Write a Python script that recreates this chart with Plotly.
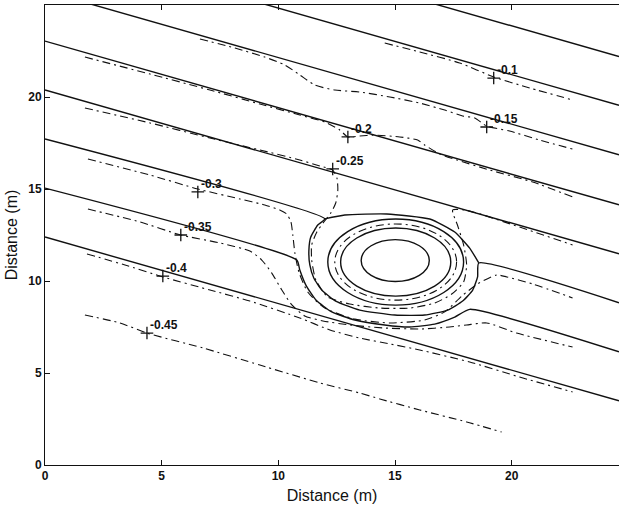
import plotly.graph_objects as go

# ---- analytical solution (solid contours), x/y in metres ----
sol_a05_x = [0.0, 24.6]
sol_a05_y = [31.10, 22.20]
sol_a10_x = [0.0, 24.6]
sol_a10_y = [28.45, 19.55]
sol_a15_x = [0.0, 24.6]
sol_a15_y = [25.76, 16.86]
sol_a20_x = [0.0, 24.6]
sol_a20_y = [23.04, 14.14]
sol_a25_x = [0.0, 24.6]
sol_a25_y = [20.38, 11.48]
sol_a40_x = [0.0, 24.6]
sol_a40_y = [12.39, 3.49]

# -0.3 contour: runs in from the left, bends under the mound, leaves to the right
sol_a30_x = [0.0, 11.99, 11.69, 11.39, 11.31, 11.35, 11.52, 11.86, 12.46, 13.49,
             14.99, 16.27, 17.26, 17.90, 18.33, 18.54, 18.59, 24.6]
sol_a30_y = [17.72, 13.38, 13.04, 12.39, 11.68, 10.87, 10.16, 9.51, 8.91, 8.42,
             8.15, 8.15, 8.42, 8.91, 9.51, 10.22, 10.98, 8.82]
# upper arc closing the outer loop round the mound
sol_a30_top_x = [11.99, 12.85, 14.65, 16.49, 17.56, 18.20, 18.59]
sol_a30_top_y = [13.38, 13.59, 13.64, 13.37, 12.66, 11.79, 10.98]

# -0.35 contour with its wider detour under the mound
sol_a35_x = [0.0, 10.79, 10.92, 11.18, 11.61, 12.29, 13.28, 14.56, 15.63, 16.70,
             17.56, 18.20, 24.6]
sol_a35_y = [15.05, 11.14, 10.60, 9.78, 8.97, 8.32, 7.88, 7.61, 7.50, 7.66,
             8.04, 8.46, 6.15]

# closed rings round the mound: centre x, centre y, half-width, half-height
ring_cx = [15.01, 15.03, 15.03, 15.03]
ring_cy = [11.11, 11.03, 11.03, 11.03]
ring_rx = [1.46, 2.36, 2.61, 2.91]
ring_ry = [1.14, 1.85, 2.07, 2.34]
ring_dashed = [False, False, True, False]

# ---- numerical solution (dash-dot contours) ----
num_10_x = [14.56, 16.06, 17.77, 19.23, 20.77, 22.61]
num_10_y = [22.93, 22.45, 21.85, 21.09, 20.49, 19.84]

num_15_x = [6.64, 8.14, 9.42, 10.28, 10.92, 11.56, 12.42, 13.49, 14.78, 16.06,
            17.13, 17.90, 18.42, 18.93, 19.91, 21.20, 22.61]
num_15_y = [23.15, 22.66, 22.17, 21.74, 21.20, 20.65, 20.38, 20.27, 20.00, 19.67,
            19.29, 18.97, 18.86, 18.42, 18.15, 17.66, 17.17]

num_20_x = [1.71, 4.50, 7.07, 9.21, 10.92, 11.99, 12.63, 12.98, 13.49, 14.05,
            15.20, 15.97, 16.27, 16.92, 17.65, 19.06, 20.90, 22.61]
num_20_y = [22.17, 21.25, 20.38, 19.62, 19.02, 18.64, 18.21, 17.83, 17.88, 17.93,
            17.83, 17.66, 17.39, 16.90, 16.58, 16.03, 15.38, 14.57]

num_25_x = [1.71, 4.50, 7.07, 9.21, 10.92, 11.78, 12.33, 12.51, 12.55, 12.46,
            12.25, 11.95, 11.65, 11.43, 11.43, 11.61, 12.12, 13.06, 14.35, 15.63,
            16.70, 17.43, 17.94, 18.07, 17.94, 17.69, 17.47, 17.99, 18.50, 20.34, 22.61]
num_25_y = [19.40, 18.59, 17.77, 17.12, 16.58, 16.25, 16.03, 15.60, 14.95, 14.24,
            13.70, 13.21, 12.66, 11.96, 11.14, 10.05, 9.13, 8.75, 8.53, 8.53,
            8.80, 9.29, 9.95, 10.87, 11.96, 12.99, 13.86, 13.86, 13.70, 12.93, 11.96]

num_30_x = [1.84, 4.50, 6.55, 8.35, 9.42, 10.06, 10.36, 10.54, 10.62, 10.71,
            10.88, 11.26, 11.99, 13.28, 14.78, 16.27, 17.13, 17.86, 18.54, 19.36,
            19.79, 20.90, 22.61]
num_30_y = [16.63, 15.76, 15.00, 14.46, 14.13, 13.86, 13.64, 13.21, 12.50, 11.52,
            10.49, 9.40, 8.53, 7.93, 7.72, 7.88, 8.32, 9.18, 9.84, 10.33,
            10.22, 9.84, 9.08]

num_35_x = [1.84, 4.07, 5.82, 7.49, 8.78, 9.29, 9.72, 10.15, 10.58, 11.13,
            11.91, 13.06, 14.48, 16.06, 17.34, 18.07, 18.93, 20.21, 22.61]
num_35_y = [13.91, 13.21, 12.50, 12.07, 11.63, 11.14, 10.43, 9.51, 8.70, 8.10,
            7.83, 7.61, 7.45, 7.39, 7.50, 7.61, 7.72, 7.17, 6.41]

num_40_x = [1.80, 3.43, 5.05, 7.07, 8.78, 10.92, 12.21, 13.49, 14.78, 16.06,
            18.20, 20.34, 22.61]
num_40_y = [11.47, 10.87, 10.22, 9.51, 8.91, 7.99, 7.34, 6.90, 6.58, 6.25,
            5.60, 4.78, 3.97]

num_45_x = [1.71, 3.21, 4.37, 6.77, 9.21, 11.78, 13.49, 14.35, 16.06, 18.07, 19.57]
num_45_y = [8.15, 7.72, 7.17, 6.36, 5.43, 4.46, 3.91, 3.59, 2.99, 2.34, 1.79]

# contour labels: level and the point where each one is pinned
label_levels = [-0.1, -0.15, -0.2, -0.25, -0.3, -0.35, -0.4, -0.45]
label_x = [19.23, 18.93, 12.98, 12.33, 6.55, 5.82, 5.05, 4.37]
label_y = [21.03, 18.37, 17.83, 16.09, 14.84, 12.50, 10.27, 7.17]

x_ticks = [0, 5, 10, 15, 20]
y_ticks = [0, 5, 10, 15, 20]

INK = "#111111"
DASHDOT = "8px,4px,2px,4px"
FONT = "Liberation Sans, Arial, sans-serif"

fig = go.Figure()

solid_paths = [
    (sol_a05_x, sol_a05_y, "linear"), (sol_a10_x, sol_a10_y, "linear"),
    (sol_a15_x, sol_a15_y, "linear"), (sol_a20_x, sol_a20_y, "linear"),
    (sol_a25_x, sol_a25_y, "linear"), (sol_a40_x, sol_a40_y, "linear"),
    (sol_a30_x, sol_a30_y, "spline"), (sol_a30_top_x, sol_a30_top_y, "spline"),
    (sol_a35_x, sol_a35_y, "spline"),
]
for xs, ys, shape in solid_paths:
    fig.add_trace(go.Scatter(
        x=xs, y=ys, mode="lines", showlegend=False, hoverinfo="skip",
        line=dict(color=INK, width=1.4, shape=shape, smoothing=0.5),
    ))

numeric_paths = [
    (num_10_x, num_10_y), (num_15_x, num_15_y), (num_20_x, num_20_y),
    (num_25_x, num_25_y), (num_30_x, num_30_y), (num_35_x, num_35_y),
    (num_40_x, num_40_y), (num_45_x, num_45_y),
]
for xs, ys in numeric_paths:
    fig.add_trace(go.Scatter(
        x=xs, y=ys, mode="lines", showlegend=False, hoverinfo="skip",
        line=dict(color=INK, width=1.1, dash=DASHDOT, shape="spline", smoothing=0.6),
    ))

for cx, cy, rx, ry, dashed in zip(ring_cx, ring_cy, ring_rx, ring_ry, ring_dashed):
    fig.add_shape(
        type="circle", xref="x", yref="y",
        x0=cx - rx, x1=cx + rx, y0=cy - ry, y1=cy + ry,
        line=dict(color=INK, width=1.1 if dashed else 1.4,
                  dash=DASHDOT if dashed else "solid"),
    )

# '+' markers on the labelled contours
fig.add_trace(go.Scatter(
    x=label_x, y=label_y, mode="markers", showlegend=False, hoverinfo="skip",
    marker=dict(symbol="cross-thin", size=9, line=dict(color=INK, width=1.3)),
))

for lv, lx, ly in zip(label_levels, label_x, label_y):
    fig.add_annotation(
        x=lx, y=ly, xref="x", yref="y", text=f"{lv:g}", showarrow=False,
        xanchor="left", yanchor="middle", xshift=1, yshift=8,
        font=dict(family=FONT, size=12, color=INK, weight="bold"),
    )

axis_font = dict(family=FONT, size=12, color=INK, weight="bold")
title_font = dict(family=FONT, size=16, color=INK)

fig.update_layout(
    width=619, height=508,
    margin=dict(l=45, r=0, t=5, b=43),
    paper_bgcolor="white", plot_bgcolor="white",
    xaxis=dict(
        range=[0, 24.6], tickvals=x_ticks, ticks="inside", ticklen=5,
        tickcolor=INK, showline=True, linecolor=INK, linewidth=1, mirror="ticks",
        showgrid=False, zeroline=False, tickfont=axis_font,
        title=dict(text="Distance (m)", font=title_font, standoff=7),
    ),
    yaxis=dict(
        range=[0, 25], tickvals=y_ticks, ticks="inside", ticklen=5,
        tickcolor=INK, showline=True, linecolor=INK, linewidth=1, mirror=False,
        showgrid=False, zeroline=False, tickfont=axis_font,
        title=dict(text="Distance (m)", font=title_font, standoff=6),
    ),
)

fig.write_html("out.html")
